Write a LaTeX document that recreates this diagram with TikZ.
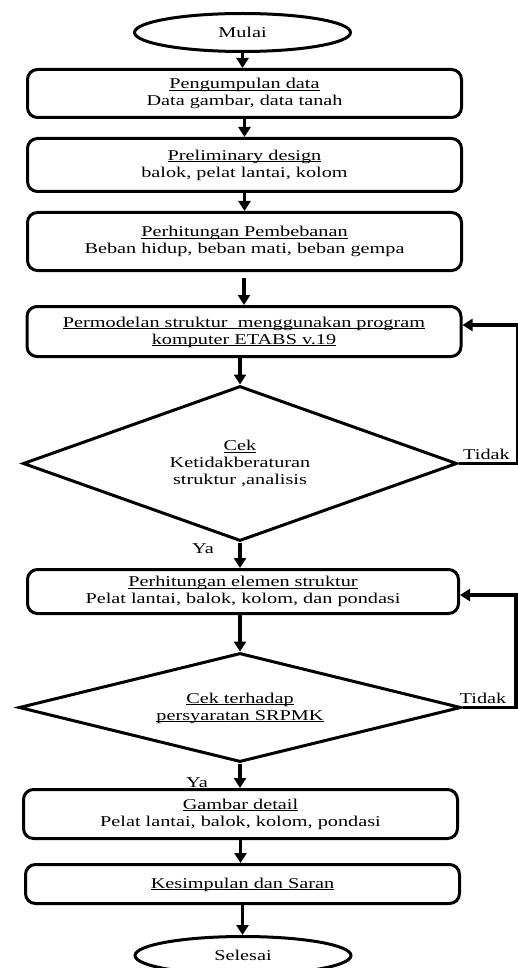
\documentclass[tikz,border=0pt]{standalone}
\usepackage{fontspec}
\setmainfont{Liberation Serif}[FakeStretch=1.35]
\usetikzlibrary{positioning,arrows.meta,shapes.geometric}
\newcommand{\garis}[1]{\underline{\raisebox{0pt}[\height][0pt]{#1}}}

\begin{document}
\begin{tikzpicture}[x=1pt,y=-1pt,>={Triangle[length=10pt,width=12pt]},
  font=\fontsize{15}{17}\selectfont,
  box/.style={draw,line width=3pt,rounded corners=10pt,minimum width=434pt,align=center,inner sep=0pt},
  term/.style={draw,ellipse,line width=3pt,minimum width=216pt,minimum height=38pt,inner sep=0pt},
  cek/.style={draw,diamond,line width=3pt,inner sep=0pt,align=center},
  flow/.style={->,line width=3.5pt}]
\useasboundingbox (0,0) rectangle (518,968);
\clip (0,0) rectangle (518,968);
\node[term] (s0) at (242.5,32.5) {Mulai};
\node[box,minimum height=48pt] (s1) at (244.5,93.5) {\garis{Pengumpulan data}\\Data gambar, data tanah};
\node[box,minimum height=53pt] (s2) at (244.5,165) {\garis{Preliminary design}\\balok, pelat lantai, kolom};
\node[box,minimum height=58pt] (s3) at (244.5,241.5) {\garis{Perhitungan Pembebanan}\\Beban hidup, beban mati, beban gempa};
\node[box,minimum height=50pt] (s4) at (244,331.5) {\garis{Permodelan struktur~ menggunakan program}\\\garis{komputer ETABS v.19}};
\node[cek,aspect=2.8,minimum width=434pt,minimum height=155pt] (d1) at (240,463.5) {\garis{Cek}\\Ketidakberaturan\\struktur ,analisis};
\node[box,minimum height=44pt,minimum width=431pt] (s5) at (243,591.5) {\garis{Perhitungan elemen struktur}\\Pelat lantai, balok, kolom, dan pondasi};
\node[cek,aspect=4.05,minimum width=442pt,minimum height=109pt] (d2) at (240,707.5) {\garis{Cek terhadap}\\\garis{persyaratan SRPMK}};
\node[box,minimum height=49pt] (s6) at (240.5,814) {\garis{Gambar detail}\\Pelat lantai, balok, kolom, pondasi};
\node[box,minimum height=39pt] (s7) at (242.5,884) {\garis{Kesimpulan dan Saran}};
\node[term] (s8) at (243,955.5) {Selesai};
\node (ya1) at (203,549) {Ya};
\node (ya2) at (197,783) {Ya};
\node (tidak1) at (486.5,454) {Tidak};
\node (tidak2) at (483,698) {Tidak};
\coordinate (k1) at (518,325);
\coordinate (k2) at (516,595);
% alur utama
\draw[flow] (s0) -- (s0.south |- s1.north);
\draw[flow] (s1) -- (s1.south |- s2.north);
\draw[flow] (s2) -- (s2.south |- s3.north);
\draw[flow,shorten <=6pt] (s3.south -| s4.north) -- (s4.north);
\draw[flow] (s4.south -| d1.north) -- (d1.north);
\draw[flow] (d1.south) -- (d1.south |- s5.north);
\draw[flow] (s5.south -| d2.north) -- (d2.north);
\draw[flow] (d2.south) -- (d2.south |- s6.north);
\draw[flow] (s6) -- (s6.south |- s7.north);
\draw[flow] (s7) -- (s7.south |- s8.north);
% umpan balik
\draw[flow] (d1.east) -| (k1) -- (s4.east |- k1);
\draw[flow] (d2.east) -| (k2) -- (s5.east |- k2);
\end{tikzpicture}
\end{document}
